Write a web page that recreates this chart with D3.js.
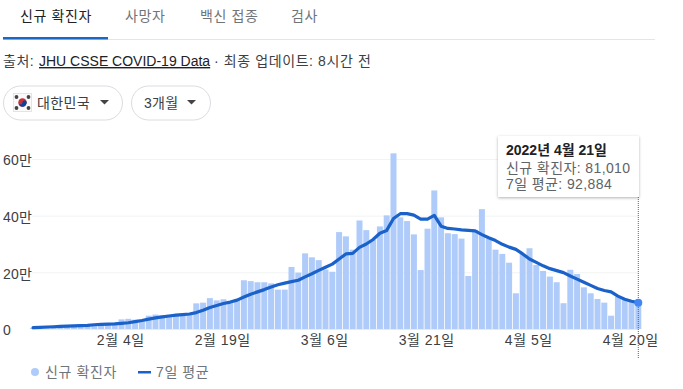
<!DOCTYPE html>
<html><head><meta charset="utf-8">
<script src="https://cdn.jsdelivr.net/npm/d3@7"></script>
<style>
html,body{margin:0;padding:0;background:#fff;overflow:hidden}
svg{display:block}
text{font-family:"Liberation Sans","Noto Sans CJK KR",sans-serif}
</style></head><body>
<svg id="c" width="683" height="389"></svg>
<script>
const newCases = [0.4,0.5,0.6,0.7,0.8,0.9,1.1,1.2,1.4,1.5,1.7,1.9,2.2,3.4,3.6,3.3,3.0,4.7,5.1,4.8,5.0,5.0,5.2,5.3,9.05,9.3,10.9,10.1,
10.5,9.9,10.2,17.2,16.9,16.5,16.5,16.1,13.9,13.9,21.9,19.9,26.7,25.3,24.3,21,20.2,34.2,32.7,28,38.3,34.9,31.4,36.2,40.1,62,39.4,38.1,33.4,20.8,35.4,48.9,
39.4,33.8,33.5,31.9,18.7,35,42.3,32,28,26.5,23.4,12.6,26.5,28.5,22.6,20.5,18.5,16.5,9.1,20.9,19.4,14.7,12.6,10.6,9.3,4.7,11.4,10.2,9.6,8.101];
const weeklyAvg = [0.5,0.6,0.7,0.8,0.9,1.0,1.1,1.2,1.3,1.5,1.6,1.7,1.8,2.0,2.2,2.6,3.0,3.5,3.9,4.3,4.6,4.9,5.1,5.3,5.8,6.6,7.6,8.3,
9.0,9.5,10.2,11.3,12.3,13.1,13.9,14.8,15.6,16.2,16.7,17.2,18.4,19.5,20.7,21.8,22.9,24.7,26.5,26.7,28.8,30,31.6,33.8,34.8,39,40.7,40.7,40.2,38.8,38.8,40.1,
36.3,35.5,35.3,35,34.8,34.6,33.3,32.2,31.2,29.9,28.9,28.1,26.5,24.7,23.5,22.3,21.3,20.6,19.9,18.7,17.6,16.5,15.4,14.3,13.6,13.1,11.6,10.5,9.8,9.2884];
const xTickIndex = [13,28,43,58,73,88];
const xTickLabels = ["2월 4일","2월 19일","3월 6일","3월 21일","4월 5일","4월 20일"];
const yTicks = [0,20,40,60];
const yTickLabels = ["0","20만","40만","60만"];
const tabs = ["신규 확진자","사망자","백신 접종","검사"];
const seriesNames = ["신규 확진자","7일 평균"];

const svg = d3.select("#c");
const idx = d3.range(newCases.length);
const x = d3.scaleBand().domain(idx).range([29.7,641.7]).paddingInner(0.12).paddingOuter(0.06);
const cx = i => x(i)+x.bandwidth()/2;
const y = d3.scaleLinear().domain([0,60]).range([329,159]);
const txt=(xp,yp,s,size,fill,anchor,weight,ls)=>svg.append("text").attr("x",xp).attr("y",yp).attr("font-size",size).attr("fill",fill).attr("text-anchor",anchor||"start").attr("font-weight",weight||400).attr("letter-spacing",ls||0).text(s);

// tabs
const tabX=[20,125,200,291];
tabs.forEach((t,i)=>txt(tabX[i],21,t,14,i==0?"#202124":"#70757a","start",400,0.6));
svg.append("rect").attr("x",3).attr("y",39).attr("width",652).attr("height",1).attr("fill","#e3e5e8");
svg.append("rect").attr("x",3).attr("y",37).attr("width",105).attr("height",2.5).attr("fill","#1a69c4");

// source line
txt(3,66,"출처:",14,"#3c4043","start",400,0.5);
const link=txt(39,66,"JHU CSSE COVID-19 Data",14,"#202124").attr("text-decoration","underline");
txt(214,66,"· 최종 업데이트: 8시간 전",14,"#3c4043","start",400,0.6);

// pills
[[3.5,119],[131.5,79]].forEach(p=>svg.append("rect").attr("x",p[0]).attr("y",86).attr("width",p[1]).attr("height",34).attr("rx",17).attr("fill","#fff").attr("stroke","#dadce0"));
const fl=svg.append("g").attr("transform","translate(13,93)");
fl.append("rect").attr("x",.5).attr("y",.5).attr("width",18).attr("height",18).attr("fill","#fafafa").attr("stroke","#e4e4e4");
fl.append("circle").attr("cx",9.5).attr("cy",9.5).attr("r",4.2).attr("fill","#cd2e3a");
fl.append("path").attr("d","M5.3 9.5a4.2 4.2 0 0 0 8.4 0a2.1 2.1 0 0 0 -4.2 0a2.1 2.1 0 0 1 -4.2 0z").attr("fill","#0047a0");
[[3.5,4],[15.5,4],[3.5,15],[15.5,15]].forEach(p=>fl.append("circle").attr("cx",p[0]).attr("cy",p[1]).attr("r",1.9).attr("fill","#444"));
txt(37,108,"대한민국",14,"#3c4043","start",400,0.4);
txt(144,108,"3개월",14,"#3c4043","start",400,0.3);
[[104.5],[191.5]].forEach(p=>svg.append("path").attr("d",`M${p[0]-4.5} 100h9l-4.5 4.5z`).attr("fill","#444"));

// grid
svg.append("g").selectAll("line").data(yTicks).join("line")
  .attr("x1",32).attr("x2",639).attr("y1",d=>y(d)+.5).attr("y2",d=>y(d)+.5).attr("stroke",(d,i)=>i==0?"#e8eaed":"#f1f3f4");

// y labels
const yAxis=d3.axisLeft(y).tickValues(yTicks).tickSize(0).tickFormat((d,i)=>yTickLabels[i]);
const ya=svg.append("g").attr("transform","translate(3,1)").call(yAxis);
ya.select(".domain").remove();
ya.selectAll("text").attr("text-anchor","start").attr("x",0).attr("dy","0.35em").attr("font-size",14).attr("letter-spacing",0.2).attr("fill","#3c4043").attr("font-family",null);

// bars
svg.append("g").selectAll("rect").data(newCases).join("rect")
  .attr("x",(d,i)=>x(i)).attr("width",x.bandwidth()).attr("y",d=>y(d)).attr("height",d=>y(0)-y(d)).attr("fill","#aecbfa");

// line
const ln=d3.line().x((d,i)=>cx(i)).y(d=>y(d));
svg.append("path").datum(weeklyAvg).attr("d",ln).attr("fill","none").attr("stroke","#1a62c9").attr("stroke-width",3.2).attr("stroke-linejoin","round").attr("stroke-linecap","round");

// x labels
const xa=svg.append("g").attr("transform","translate(-0.8,329)").call(d3.axisBottom(x).tickValues(xTickIndex).tickSize(0).tickFormat((d,i)=>xTickLabels[i]));
xa.select(".domain").remove();
xa.selectAll("text").attr("y",11).attr("dy","0.35em").attr("font-size",14).attr("letter-spacing",0.5).attr("fill","#3c4043").attr("font-family",null);

// crosshair + point
const last=idx.length-1;
svg.append("line").attr("x1",cx(last)).attr("x2",cx(last)).attr("y1",197).attr("y2",358).attr("stroke","#5f6368").attr("stroke-dasharray","1 1");
svg.append("circle").attr("cx",cx(last)).attr("cy",y(weeklyAvg[last])).attr("r",4).attr("fill","#4285f4");

// tooltip
const defs=svg.append("defs");
const f=defs.append("filter").attr("id","sh").attr("x","-10%").attr("y","-10%").attr("width","120%").attr("height","125%");
f.append("feDropShadow").attr("dx",0).attr("dy",1).attr("stdDeviation",1.5).attr("flood-color","#000").attr("flood-opacity",.3);
svg.append("rect").attr("x",498).attr("y",136).attr("width",141).attr("height",61).attr("fill","#fff").attr("filter","url(#sh)");
txt(506,155,"2022년 4월 21일",14,"#202124","start",700);
txt(506,173,seriesNames[0]+": 81,010",14,"#5f6368","start",400,0.4);
txt(506,189,seriesNames[1]+": 92,884",14,"#5f6368","start",400,0.4);

// legend
svg.append("circle").attr("cx",35).attr("cy",372).attr("r",4).attr("fill","#aecbfa");
txt(45,377,seriesNames[0],14,"#70757a","start",400,0.6);
svg.append("rect").attr("x",138).attr("y",371).attr("width",13).attr("height",2.5).attr("fill","#1a62c9");
txt(156,377,seriesNames[1],14,"#70757a","start",400,0.6);
</script></body></html>
